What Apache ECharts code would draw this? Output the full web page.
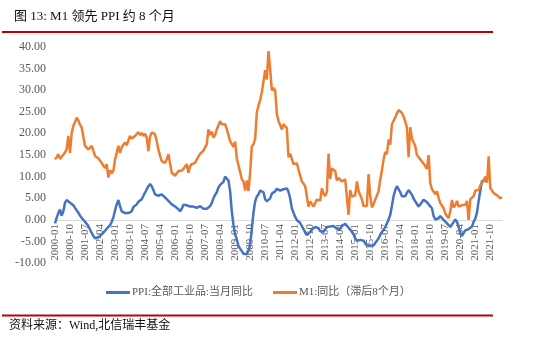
<!DOCTYPE html>
<html>
<head>
<meta charset="utf-8">
<script src="https://cdn.jsdelivr.net/npm/echarts@6/dist/echarts.min.js"></script>
<style>
html,body{margin:0;padding:0;background:#fff;}
#c{width:550px;height:344px;}
</style>
</head>
<body>
<div id="c"></div>
<script>
// ---- data ----
const startYear = 2000;
const monthCount = 269; // 2000-01 .. 2022-05
const categories = [];
for (let i = 0; i < monthCount; i++) {
  const y = startYear + Math.floor(i / 12);
  const m = (i % 12) + 1;
  categories.push(y + '-' + (m < 10 ? '0' + m : m));
}

const ppiName = 'PPI:全部工业品:当月同比';
const m1Name = 'M1:同比（滞后8个月）';

const ppi = [
  -0.8, 0.5, 1.6, 2.4, 1.0, 2.0, 4.0, 4.6, 4.2, 4.0, 3.9, 3.4,
  2.8, 2.2, 1.7, 1.0, 0.5, 0.2, -0.4, -0.9, -1.4, -2.2, -3.0, -3.7,
  -4.2, -4.4, -4.0, -3.6, -3.3, -2.9, -2.5, -2.0, -1.6, -1.2, -0.4, 0.6,
  2.2, 3.6, 4.6, 3.2, 2.0, 1.7, 1.6, 1.7, 1.6, 1.8, 2.0, 3.0,
  3.2, 3.6, 4.2, 4.5, 4.8, 5.6, 6.3, 7.1, 7.8, 8.3, 7.8, 6.9,
  5.9, 5.6, 5.6, 5.8, 5.9, 5.6, 5.2, 5.0, 4.4, 4.0, 3.6, 3.3,
  3.1, 3.0, 2.5, 2.0, 2.6, 3.5, 3.6, 3.4, 3.5, 3.1, 3.0, 3.1,
  2.9, 2.8, 3.1, 3.2, 2.9, 2.6, 2.5, 2.6, 2.8, 3.2, 3.9, 5.0,
  5.8, 6.4, 7.5, 8.1, 8.2, 8.8, 10.0, 10.1, 9.1, 6.6, 2.0, -1.1,
  -3.3, -4.5, -6.0, -6.6, -7.2, -7.8, -8.2, -7.9, -7.0, -5.8, -2.1, 1.7,
  4.3, 5.4, 5.9, 6.8, 7.1, 6.4, 4.8, 4.3, 4.3, 5.0, 6.1, 5.9,
  6.6, 7.2, 7.3, 6.8, 6.8, 7.1, 7.5, 7.3, 6.5, 5.0, 2.7, 1.7,
  0.7, 0.0, -0.3, -0.7, -1.4, -2.1, -2.9, -3.5, -3.6, -2.8, -2.2, -1.9,
  -1.6, -1.6, -1.9, -2.6, -2.9, -2.7, -2.3, -1.6, -1.3, -1.5, -1.4, -1.4,
  -1.6, -2.0, -2.3, -2.0, -1.4, -1.1, -0.9, -1.2, -1.8, -2.2, -2.7, -3.3,
  -4.3, -4.8, -4.6, -4.6, -4.6, -4.8, -5.4, -5.9, -5.9, -5.9, -5.9, -5.9,
  -5.3, -4.9, -4.3, -3.4, -2.8, -2.6, -1.7, -0.8, 0.1, 1.2, 3.3, 5.5,
  6.9, 7.8, 7.6, 6.4, 5.5, 5.5, 5.5, 6.3, 6.9, 6.9, 5.8, 4.9,
  4.3, 3.7, 3.1, 3.4, 4.1, 4.7, 4.6, 4.1, 3.6, 3.3, 2.7, 0.9,
  0.1, 0.1, 0.4, 0.9, 0.6, 0.0, -0.3, -0.8, -1.2, -1.6, -1.4, -0.5,
  0.1, -0.4, -1.5, -3.1, -3.7, -3.0, -2.4, -2.0, -2.1, -2.1, -1.5, -0.4,
  0.3, 1.7, 4.4, 6.8, 9.0, 8.8, 9.0, 9.5
];

const m1Lagged = [
  14.0, 14.5, 15.2, 14.1, 14.6, 15.0, 15.6, 16.4, 19.4, 15.5, 20.0, 21.7,
  22.6, 23.6, 23.0, 22.0, 21.3, 19.2, 17.1, 16.8, 16.3, 16.6, 17.1, 16.0,
  14.8, 15.0, 14.2, 14.4, 13.2, 12.5, 12.0, 12.9, 9.8, 11.5, 10.8, 11.3,
  14.0, 15.5, 17.1, 15.5, 16.8, 17.4, 17.9, 17.2, 18.4, 19.4, 18.8, 18.6,
  19.4, 19.8, 20.3, 19.6, 20.1, 19.4, 19.9, 19.0, 15.9, 19.3, 20.2, 20.0,
  19.8, 18.2, 16.3, 14.8, 13.6, 13.2, 13.2, 14.0, 15.2, 15.6, 10.9, 10.6,
  10.2, 10.8, 11.3, 11.5, 11.4, 11.7, 12.3, 12.9, 10.9, 12.4, 12.9, 13.0,
  13.2, 14.0, 14.4, 15.3, 15.6, 16.0, 16.3, 17.5, 20.9, 19.6, 20.4, 19.0,
  19.6, 20.9, 20.9, 22.8, 22.1, 22.2, 22.1, 21.0, 20.7, 18.2, 18.3, 16.9,
  18.1, 14.2, 14.0, 11.1, 9.4, 8.9, 6.8, 9.1, 6.7, 10.9, 17.0, 17.5,
  18.7, 24.8, 26.4, 27.7, 29.5, 32.0, 34.6, 32.4, 39.0, 34.9, 29.9, 30.5,
  29.9, 24.6, 22.8, 21.9, 20.9, 22.1, 22.1, 21.2, 14.5, 15.3, 15.0, 12.9,
  12.7, 13.1, 11.6, 11.2, 8.9, 8.4, 7.8, 7.9, 3.1, 4.3, 4.4, 3.1,
  3.5, 4.7, 4.6, 4.5, 7.3, 6.1, 5.5, 6.5, 15.3, 9.5, 11.9, 11.9,
  11.3, 9.1, 9.7, 9.9, 8.9, 8.9, 9.4, 9.3, 1.2, 6.9, 5.4, 5.3,
  5.7, 8.9, 6.7, 5.7, 4.8, 3.2, 3.2, 3.2, 10.6, 5.6, 2.9, 3.7,
  4.7, 4.3, 6.6, 9.3, 11.4, 14.0, 15.7, 15.2, 18.6, 17.4, 22.1, 22.9,
  23.7, 24.6, 25.4, 25.3, 24.7, 23.9, 22.7, 21.4, 14.5, 21.4, 18.8, 18.5,
  17.0, 15.0, 15.3, 14.0, 14.0, 13.0, 12.7, 11.8, 15.0, 8.5, 7.1, 7.2,
  6.0, 6.6, 5.1, 3.9, 4.0, 2.7, 1.5, 1.5, 0.4, 2.0, 4.6, 2.9,
  3.4, 4.4, 3.1, 3.4, 3.4, 3.3, 3.5, 4.4, 0.0, 4.8, 5.0, 5.5,
  6.8, 6.5, 6.9, 8.0, 8.1, 9.1, 10.0, 8.6, 14.7, 7.4, 7.1, 6.2,
  6.1, 5.7, 5.6, 5.0, 5.3
];

const yMin = -10, yMax = 40, yStep = 5;

// ---- layout ----
const gridTop = 46.7, gridBottomY = 263.3;
const zeroY = gridBottomY - (0 - yMin) / (yMax - yMin) * (gridBottomY - gridTop);

// ---- chart ----
const serif = '"Liberation Serif", "Times New Roman", "Noto Sans CJK SC", serif';
const chart = echarts.init(document.getElementById('c'), null, {renderer: 'canvas'});
chart.setOption({
  animation: false,
  backgroundColor: '#ffffff',
  title: {
    text: '图 13: M1 领先 PPI 约 8 个月',
    left: 9, top: 5,
    textStyle: {fontSize: 13, fontWeight: 'normal', color: '#111', fontFamily: serif}
  },
  graphic: [
    {type: 'line', shape: {x1: 2, y1: 32, x2: 493, y2: 32}, style: {stroke: '#c00000', lineWidth: 2}},
    {type: 'line', shape: {x1: 2, y1: 315.5, x2: 493, y2: 315.5}, style: {stroke: '#c00000', lineWidth: 2}},
    {type: 'text', left: 9, top: 320, style: {text: '资料来源：Wind,北信瑞丰基金', fontSize: 12, fill: '#111', fontFamily: serif}}
  ],
  legend: {
    left: 101, top: 282,
    itemWidth: 24, itemHeight: 3, itemGap: 20,
    icon: 'rect',
    textStyle: {fontSize: 11, color: '#595959', fontFamily: serif, padding: [0, 0, 0, -3]},
    data: [ppiName, m1Name]
  },
  grid: {left: 55, right: 48, top: gridTop, bottom: 344 - gridBottomY, containLabel: false},
  xAxis: {
    type: 'category',
    data: categories,
    boundaryGap: false,
    offset: -(gridBottomY - zeroY),
    axisLine: {onZero: false, lineStyle: {color: '#d9d9d9', width: 1}},
    axisTick: {show: false},
    axisLabel: {
      interval: 8, rotate: 90, margin: 4,
      fontSize: 11, color: '#595959', fontFamily: serif
    },
    splitLine: {show: false}
  },
  yAxis: {
    type: 'value',
    min: yMin, max: yMax, interval: yStep,
    axisLine: {show: false},
    axisTick: {show: false},
    splitLine: {show: false},
    axisLabel: {
      formatter: v => v.toFixed(2),
      fontSize: 12, color: '#595959', fontFamily: serif, margin: 9
    }
  },
  series: [
    {
      name: ppiName, type: 'line', data: ppi,
      symbol: 'none', lineStyle: {color: '#4472c4', width: 2.5},
      itemStyle: {color: '#4472c4'}
    },
    {
      name: m1Name, type: 'line', data: m1Lagged,
      symbol: 'none', lineStyle: {color: '#ed7d31', width: 2.5},
      itemStyle: {color: '#ed7d31'}
    }
  ]
});
</script>
</body>
</html>
